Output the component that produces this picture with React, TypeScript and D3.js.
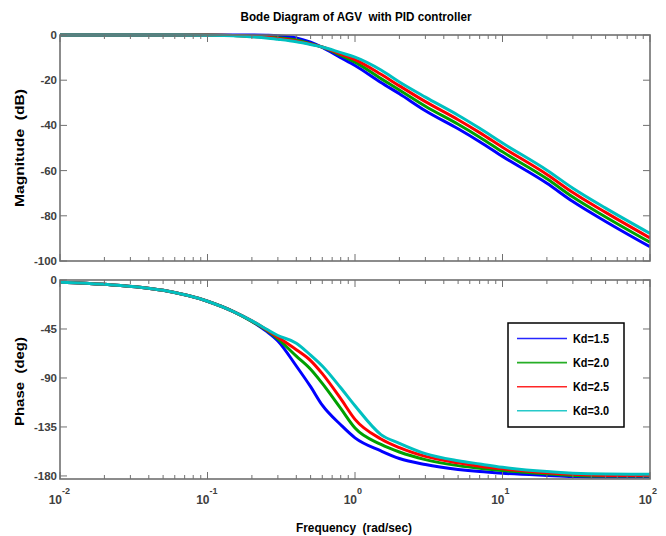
import React from "react";
import * as d3 from "d3";

const freq = [0.01, 0.02, 0.05, 0.1, 0.15, 0.2, 0.25, 0.3, 0.4, 0.5, 0.6, 0.8, 1, 1.5, 2, 3, 5, 7, 10, 20, 30, 50, 100];

const magKd15 = [0, 0, 0, 0, 0, 0, -0.1, -0.3, -1.3, -3.2, -5.5, -10, -13.5, -21, -26, -33.5, -41.5, -47.2, -53.7, -65.6, -73.7, -82.5, -93.7];
const magKd20 = [0, 0, 0, -0.05, -0.2, -0.5, -0.8, -1.2, -2.2, -3.8, -5.4, -9, -12, -19.3, -24.3, -31.5, -39.5, -45.2, -51.7, -63.6, -71.7, -80.5, -91.7];
const magKd25 = [0, 0, 0, -0.05, -0.25, -0.65, -1.0, -1.5, -2.6, -4, -5.3, -8.4, -10.9, -17.4, -22.5, -29.5, -37.5, -43.2, -49.7, -61.7, -69.7, -78.5, -89.8];
const magKd30 = [0, 0, 0, -0.1, -0.3, -0.8, -1.3, -1.9, -3, -4.2, -5.3, -7.8, -9.8, -15.5, -20.8, -27.5, -35.5, -41.3, -47.8, -59.8, -67.8, -76.6, -87.8];

const phKd15 = [-2, -4, -9.5, -19.5, -29, -38, -47, -56, -79, -98, -115, -133, -145, -157, -164, -169.5, -174, -176, -177.5, -179.5, -180.5, -181, -181];
const phKd20 = [-2, -4, -9.5, -19.5, -29, -38, -46, -54, -70, -82, -95, -118, -136, -151, -158, -165, -170.5, -173, -175, -178, -179.5, -180, -180];
const phKd25 = [-2, -4, -9.5, -19.5, -29, -37.5, -45.5, -52.5, -64, -74, -86, -109, -128, -146, -154, -162, -168, -171, -173.5, -177, -178.5, -179.5, -179.5];
const phKd30 = [-2, -4, -9.5, -19.5, -29, -37.5, -45, -51, -58, -69, -79, -99, -115.5, -142, -150, -159.5, -166, -169, -172, -176, -177.5, -178.3, -178.5];

const seriesNames = ["Kd=1.5", "Kd=2.0", "Kd=2.5", "Kd=3.0"];
const seriesColors = ["#0000ff", "#00a000", "#ff0000", "#00c0c0"];
const magSeries = [magKd15, magKd20, magKd25, magKd30];
const phSeries = [phKd15, phKd20, phKd25, phKd30];

const magTicks = [0, -20, -40, -60, -80, -100];
const phTicks = [0, -45, -90, -135, -180];
const decadeExps = [-2, -1, 0, 1, 2];

const W = 666, H = 536;
const L = 60, R = 650;
const TOP1 = 35, BOT1 = 261;
const TOP2 = 280, BOT2 = 479;

const FONT = "'Liberation Sans', Arial, sans-serif";
const AXC = "#707070";
const TXC = "#404040";

export default function App() {
  const x = d3.scaleLog().domain([0.01, 100]).range([L, R]);
  const yMag = d3.scaleLinear().domain([-100, 0]).range([BOT1, TOP1]);
  const yPh = d3.scaleLinear().domain([-182.8, 0]).range([BOT2, TOP2]);

  const minorTicks: number[] = [];
  for (let e = -2; e < 2; e++) {
    for (let m = 2; m <= 9; m++) minorTicks.push(m * Math.pow(10, e));
  }
  const majorTicks = decadeExps.map((e) => Math.pow(10, e));

  const mkLine = (ys: (v: number) => number) =>
    d3
      .line<[number, number]>()
      .x((d) => x(d[0]))
      .y((d) => ys(d[1]))
      .curve(d3.curveMonotoneX);

  const magLine = mkLine(yMag);
  const phLine = mkLine(yPh);

  const frame = (top: number, bot: number, key: string) => (
    <g key={key}>
      {minorTicks.map((t, i) => (
        <g key={"mi" + i}>
          <line x1={x(t)} x2={x(t)} y1={top} y2={top + 4} stroke={AXC} strokeWidth={1} />
          <line x1={x(t)} x2={x(t)} y1={bot} y2={bot - 4} stroke={AXC} strokeWidth={1} />
        </g>
      ))}
      {majorTicks.map((t, i) => (
        <g key={"ma" + i}>
          <line x1={x(t)} x2={x(t)} y1={top} y2={top + 7} stroke={AXC} strokeWidth={1} />
          <line x1={x(t)} x2={x(t)} y1={bot} y2={bot - 7} stroke={AXC} strokeWidth={1} />
        </g>
      ))}
      <rect x={L} y={top} width={R - L} height={bot - top} fill="none" stroke={AXC} strokeWidth={1.6} />
    </g>
  );

  const yTicks = (ticks: number[], ys: (v: number) => number, key: string) => (
    <g key={key}>
      {ticks.map((t) => (
        <g key={t}>
          <line x1={L} x2={L + 7} y1={ys(t)} y2={ys(t)} stroke={AXC} strokeWidth={1} />
          <line x1={R} x2={R - 7} y1={ys(t)} y2={ys(t)} stroke={AXC} strokeWidth={1} />
          <text x={L - 3} y={ys(t)} dy="0.35em" textAnchor="end" fontFamily={FONT} fontWeight="bold" fontSize={11.5} fill={TXC}>
            {t}
          </text>
        </g>
      ))}
    </g>
  );

  return (
    <svg width={W} height={H} style={{ position: "absolute", left: 0, top: 0, background: "#fff" }}>
      <defs>
        <clipPath id="c1">
          <rect x={L} y={TOP1 - 2} width={R - L} height={BOT1 - TOP1 + 2} />
        </clipPath>
        <clipPath id="c2">
          <rect x={L} y={TOP2 - 2} width={R - L} height={BOT2 - TOP2 + 2} />
        </clipPath>
      </defs>
      <rect x={0} y={0} width={W} height={H} fill="#fff" />

      <text x={356} y={21} textAnchor="middle" fontFamily={FONT} fontWeight="bold" fontSize={12} fill="#000"
        textLength={231} lengthAdjust="spacingAndGlyphs" style={{ whiteSpace: "pre" }}>
        {"Bode Diagram of AGV  with PID controller"}
      </text>

      <g clipPath="url(#c1)">
        {magSeries.map((s, i) => (
          <path key={i} d={magLine(freq.map((f, j) => [f, s[j]] as [number, number])) || ""} fill="none"
            stroke={seriesColors[i]} strokeWidth={3} strokeLinejoin="round" />
        ))}
      </g>
      <g clipPath="url(#c2)">
        {phSeries.map((s, i) => (
          <path key={i} d={phLine(freq.map((f, j) => [f, s[j]] as [number, number])) || ""} fill="none"
            stroke={seriesColors[i]} strokeWidth={3} strokeLinejoin="round" />
        ))}
      </g>

      {frame(TOP1, BOT1, "f1")}
      {frame(TOP2, BOT2, "f2")}
      {yTicks(magTicks, yMag, "t1")}
      {yTicks(phTicks, yPh, "t2")}

      {decadeExps.map((e) => {
        const px = x(Math.pow(10, e));
        return (
          <g key={e}>
            <text x={px + 2} y={504} textAnchor="end" fontFamily={FONT} fontWeight="bold" fontSize={12} fill={TXC}>
              10
            </text>
            <text x={px + 2} y={494} textAnchor="start" fontFamily={FONT} fontWeight="bold" fontSize={9} fill={TXC}>
              {e}
            </text>
          </g>
        );
      })}

      <text x={354} y={532} textAnchor="middle" fontFamily={FONT} fontWeight="bold" fontSize={12} fill="#000"
        textLength={116} lengthAdjust="spacingAndGlyphs" style={{ whiteSpace: "pre" }}>
        {"Frequency  (rad/sec)"}
      </text>
      <text transform={`translate(24,${(TOP1 + BOT1) / 2}) rotate(-90)`} textAnchor="middle" fontFamily={FONT}
        fontWeight="bold" fontSize={12} fill="#000" textLength={118} lengthAdjust="spacingAndGlyphs" style={{ whiteSpace: "pre" }}>
        {"Magnitude  (dB)"}
      </text>
      <text transform={`translate(24,${(TOP2 + BOT2) / 2 + 2}) rotate(-90)`} textAnchor="middle" fontFamily={FONT}
        fontWeight="bold" fontSize={12} fill="#000" textLength={89} lengthAdjust="spacingAndGlyphs" style={{ whiteSpace: "pre" }}>
        {"Phase  (deg)"}
      </text>

      <g>
        <rect x={508} y={323} width={116} height={104} fill="#fff" stroke="#000" strokeWidth={1.5} />
        {seriesNames.map((n, i) => {
          const ly = 338.5 + i * 24.1;
          return (
            <g key={n}>
              <line x1={517} x2={567} y1={ly} y2={ly} stroke={seriesColors[i]} strokeWidth={1.6} strokeOpacity={0.85} />
              <text x={573} y={ly} dy="0.36em" fontFamily={FONT} fontWeight="bold" fontSize={12} fill="#000"
                textLength={36} lengthAdjust="spacingAndGlyphs">
                {n}
              </text>
            </g>
          );
        })}
      </g>
    </svg>
  );
}
